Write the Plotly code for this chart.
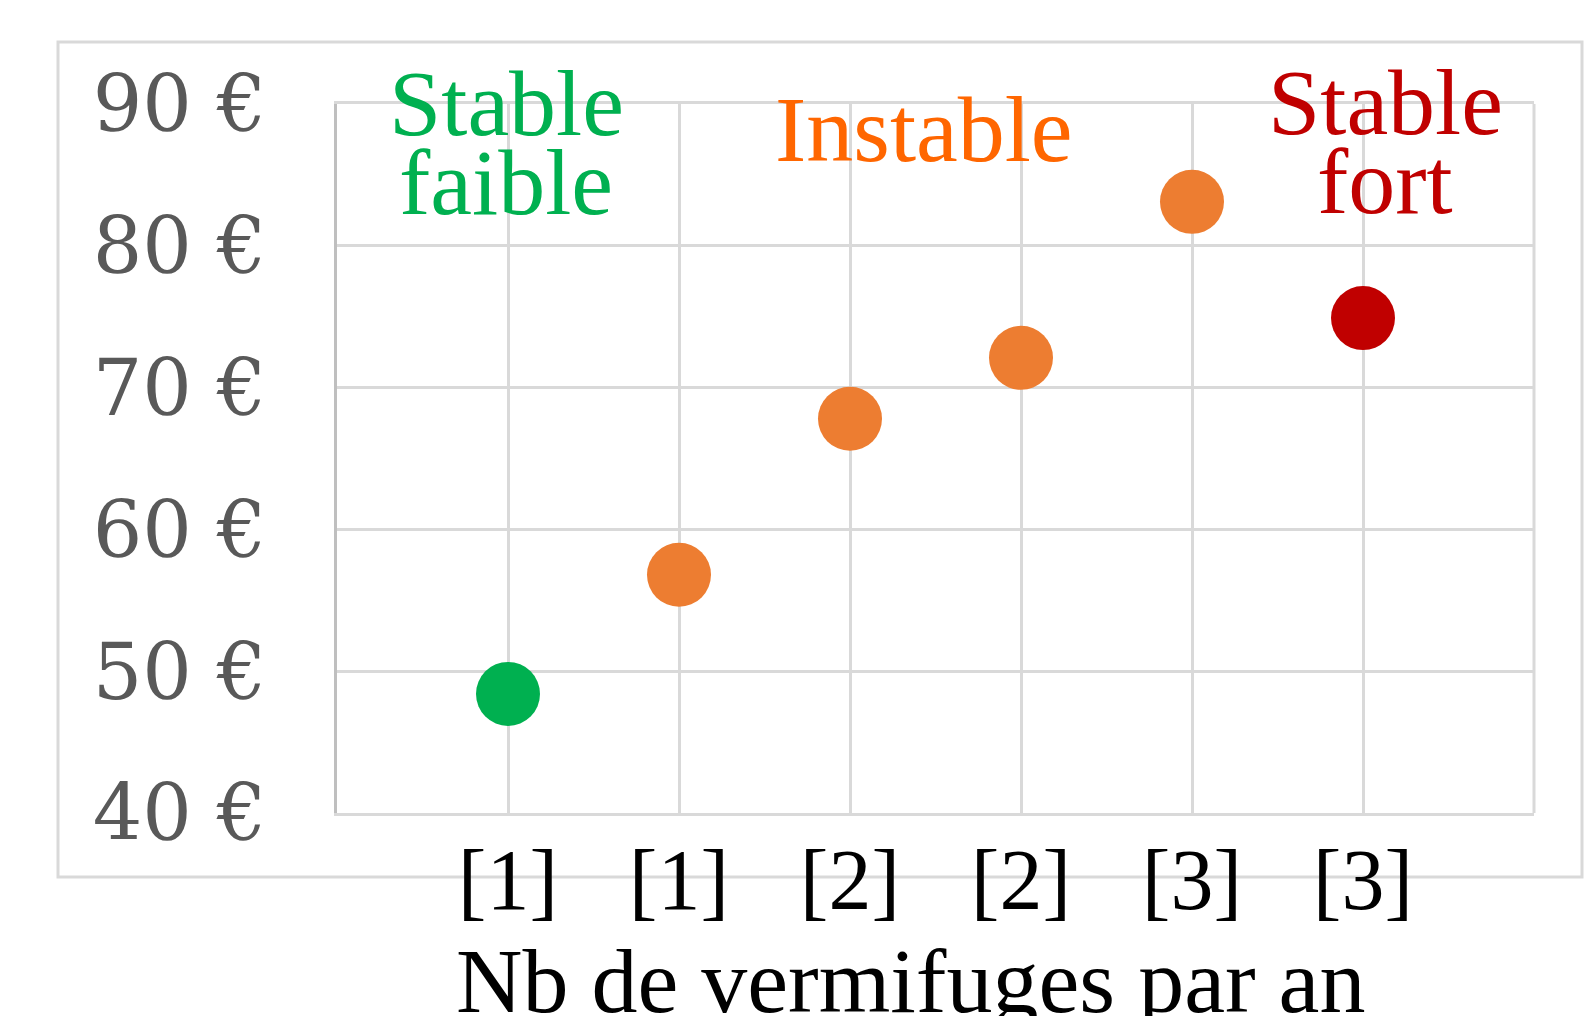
import plotly.graph_objects as go

# ---- data ----
x_positions = [1, 2, 3, 4, 5, 6]
x_tick_labels = ["[1]", "[1]", "[2]", "[2]", "[3]", "[3]"]
cost_values = [48.4, 56.8, 67.8, 72.1, 83.1, 74.9]
groups = ["Stable faible", "Instable", "Instable", "Instable", "Instable", "Stable fort"]
y_ticks = [40, 50, 60, 70, 80, 90]
y_tick_labels = ["40 €", "50 €", "60 €", "70 €", "80 €", "90 €"]
x_title = "Nb de vermifuges par an"

group_colors = {"Stable faible": "#00B050", "Instable": "#ED7D31", "Stable fort": "#C00000"}
label_colors = {"Stable faible": "#00B050", "Instable": "#FF6600", "Stable fort": "#C00000"}

OFF = 8  # page body margin
W, H = 1596 - OFF, 1016 - OFF
# plot area in page pixels: x 337..1534, y 104..813
L = 337 - OFF
R = 1596 - 1534
T = 104 - OFF
B = 1016 - 813
plot_w, plot_h = W - L - R, H - T - B

def px_to_paper(px):
    return (px - 337) / plot_w

def py_to_paper(py):
    return (813 - py) / plot_h

fig = go.Figure()
for g in ["Stable faible", "Instable", "Stable fort"]:
    xs = [x for x, gg in zip(x_positions, groups) if gg == g]
    ys = [v for v, gg in zip(cost_values, groups) if gg == g]
    fig.add_trace(go.Scatter(
        x=xs, y=ys, mode="markers", name=g,
        marker=dict(size=64, color=group_colors[g], line=dict(width=0)),
        showlegend=False, cliponaxis=False,
    ))

SERIF = "Liberation Serif, Times New Roman, serif"
fs = 94
annots = [
    ("Stable", 506, 137, "Stable faible"),
    ("faible", 506, 216, "Stable faible"),
    ("Instable", 924, 163, "Instable"),
    ("Stable", 1385, 136, "Stable fort"),
    ("fort", 1385, 215, "Stable fort"),
]
for txt, cx, base, g in annots:
    fig.add_annotation(
        x=px_to_paper(cx), y=py_to_paper(base - 0.33 * fs - 3), xref="paper", yref="paper",
        text=txt, showarrow=False, xanchor="center", yanchor="middle",
        font=dict(family=SERIF, size=fs, color=label_colors[g]),
    )

# axis title
fig.add_annotation(
    x=px_to_paper(910), y=py_to_paper(981), xref="paper", yref="paper",
    text=x_title, showarrow=False, xanchor="center", yanchor="middle",
    font=dict(family=SERIF, size=92, color="#000000"),
)

# outer chart border
fig.add_shape(type="rect", xref="paper", yref="paper",
              x0=px_to_paper(58), x1=px_to_paper(1582),
              y0=py_to_paper(877), y1=py_to_paper(42),
              line=dict(color="#D9D9D9", width=3), layer="below")
# right border of plot area
fig.add_shape(type="line", xref="paper", yref="paper", x0=1, x1=1, y0=0, y1=1,
              line=dict(color="#D9D9D9", width=3), layer="below")

fig.update_layout(
    width=W, height=H,
    margin=dict(l=L, r=R, t=T, b=B, pad=0),
    paper_bgcolor="white", plot_bgcolor="white",
    showlegend=False,
    xaxis=dict(
        range=[0, 7], tickvals=x_positions, ticktext=x_tick_labels,
        showgrid=True, gridcolor="#D9D9D9", gridwidth=3,
        showline=True, linecolor="#D9D9D9", linewidth=3, mirror=True,
        zeroline=False, ticks="", ticklabelstandoff=-10,
        tickfont=dict(family=SERIF, size=86, color="#000000"),
    ),
    yaxis=dict(
        range=[40, 90], tickvals=y_ticks, ticktext=y_tick_labels,
        showgrid=True, gridcolor="#D9D9D9", gridwidth=3,
        showline=True, linecolor="#BFBFBF", linewidth=3,
        zeroline=False, ticks="", ticklabelstandoff=52,
        tickfont=dict(family="DejaVu Serif, serif", size=78, color="#595959"),
    ),
)

fig.write_html("out.html")
